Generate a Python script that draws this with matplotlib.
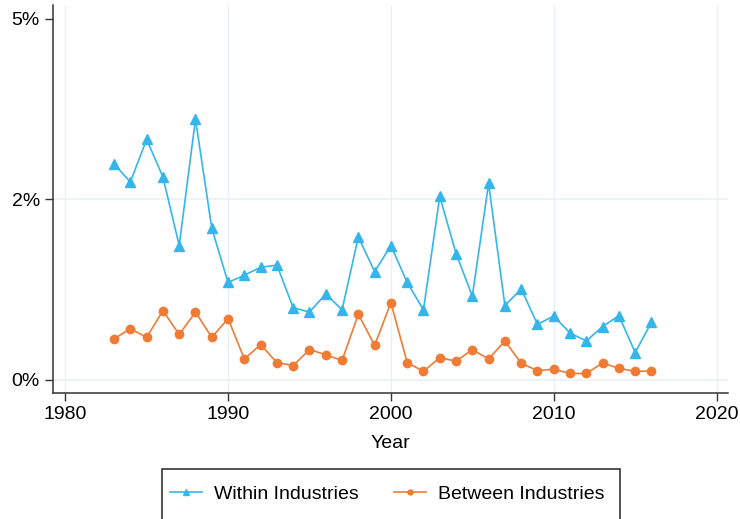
import numpy as np
import matplotlib.pyplot as plt
from matplotlib.patches import Rectangle

plt.rcParams['font.family'] = ['Liberation Sans', 'DejaVu Sans']

years = list(range(1983, 2017))

# shares in percent
within = [2.99, 2.74, 3.33, 2.81, 1.86, 3.61, 2.10, 1.35, 1.45, 1.56,
          1.59, 1.00, 0.94, 1.19, 0.97, 1.98, 1.50, 1.86, 1.35, 0.97,
          2.54, 1.75, 1.16, 2.72, 1.03, 1.26, 0.77, 0.885, 0.65, 0.54,
          0.74, 0.89, 0.38, 0.80]
between = [0.57, 0.71, 0.59, 0.96, 0.63, 0.94, 0.59, 0.85, 0.29, 0.49,
           0.24, 0.20, 0.42, 0.35, 0.27, 0.91, 0.48, 1.07, 0.24, 0.12,
           0.31, 0.26, 0.42, 0.29, 0.54, 0.23, 0.13, 0.15, 0.09, 0.09,
           0.235, 0.16, 0.12, 0.125]

ytick_pos = [0, 2.5, 5]
ytick_lab = ['0%', '2%', '5%']
xtick_pos = [1980, 1990, 2000, 2010, 2020]

blue = '#35B6EA'
orange = '#F07B35'
grid_c = '#E8F1F3'

fig = plt.figure(figsize=(7.4, 5.19), dpi=100)
ax = fig.add_axes([53/740, 1 - 392.7/519, (728 - 53)/740, (392.7 - 5)/519])

for x in xtick_pos:
    ax.axvline(x, color=grid_c, lw=1, zorder=0)
for y in ytick_pos[:2]:
    ax.axhline(y, color=grid_c, lw=1.2, zorder=0)

ax.plot(years, within, color=blue, lw=1.2, marker='^', ms=7, label='Within Industries')
ax.plot(years, between, color=orange, lw=1.2, marker='o', ms=6, label='Between Industries')

ax.set_xlim(1979.25, 2020.7)
ax.set_ylim(-0.176, 5.19)
ax.set_xticks(xtick_pos)
ax.set_yticks(ytick_pos)
ax.set_yticklabels(ytick_lab)
ax.tick_params(labelsize=14, length=6, width=1, color='#333333')
ax.set_xlabel('Year', fontsize=14, labelpad=9)

ax.spines['top'].set_visible(False)
ax.spines['right'].set_visible(False)
for s in ['left', 'bottom']:
    ax.spines[s].set_color('#333333')
    ax.spines[s].set_linewidth(1.1)

# legend box, cut off at the bottom of the figure
fig.patches.append(Rectangle((162/740, 1 - 540/519), (620 - 162)/740, (540 - 469)/519,
                             transform=fig.transFigure, fill=False, ec='#222222', lw=1.1))
h, l = ax.get_legend_handles_labels()
fig.legend(h, l, loc='center', bbox_to_anchor=(387/740, 1 - 494/519), ncol=2,
           frameon=False, fontsize=14, markerscale=0.6, handlelength=1.65,
           columnspacing=1.8, handletextpad=0.62)

fig.savefig('out.png', dpi=100)
